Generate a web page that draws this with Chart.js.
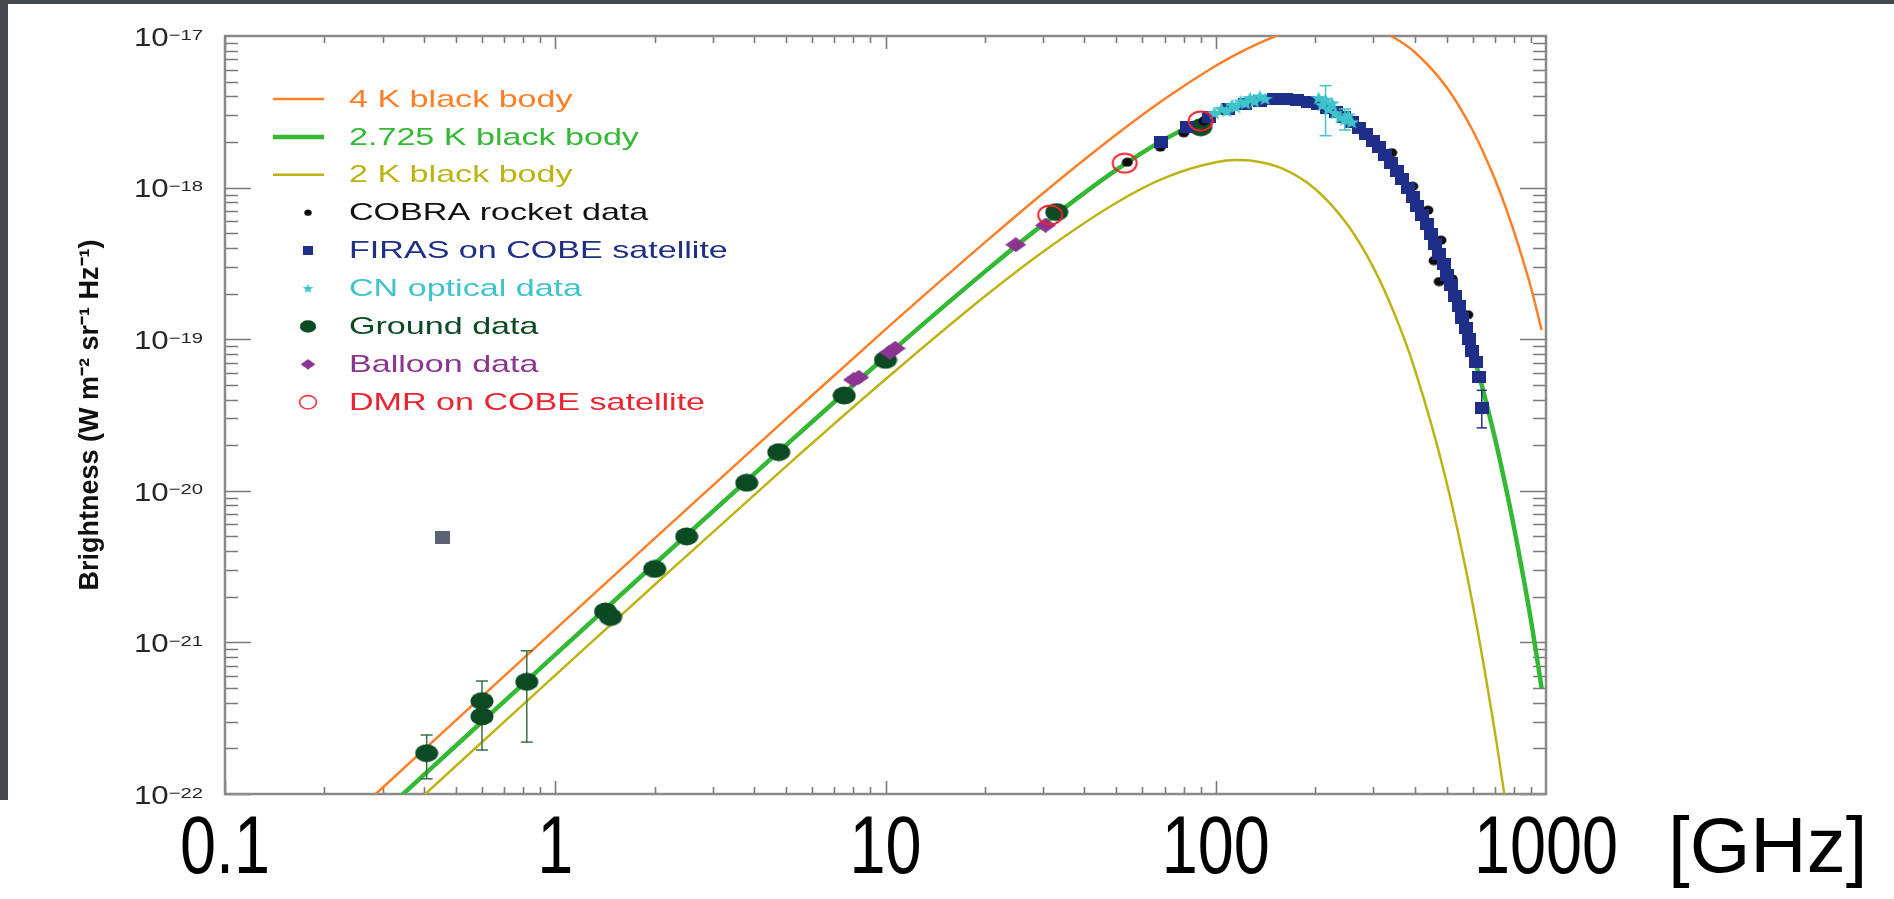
<!DOCTYPE html>
<html>
<head>
<meta charset="utf-8">
<title>CMB spectrum</title>
<script src="https://cdn.jsdelivr.net/npm/chart.js@4.4.1/dist/chart.umd.min.js"></script>
<style>
  html, body { margin: 0; padding: 0; }
  body { width: 1894px; height: 899px; background: #45484f; position: relative; overflow: hidden; }
  #sheet { position: absolute; left: 8px; top: 4px; right: 0; bottom: 0; background: #fff; }
  #foot { position: absolute; left: 0; top: 800px; right: 0; bottom: 0; background: #fff; }
  #cmbChart { position: absolute; left: 0; top: 0; }
</style>
</head>
<body>
<div id="sheet"></div>
<div id="foot"></div>
<canvas id="cmbChart" width="1894" height="899"></canvas>
<script>
// frequency grid (GHz) for the three black body curves
var freqGrid = [0.2, 0.3, 0.5, 1, 2, 5, 10, 20, 30, 50, 70, 100, 115, 130, 160, 200, 250, 300, 350, 400, 500, 600, 700, 750, 800, 900, 970];
var bb4K    = [4.91e-23, 1.10e-22, 3.06e-22, 1.22e-21, 4.86e-21, 2.98e-20, 1.16e-19, 4.35e-19, 9.19e-19, 2.24e-18, 3.84e-18, 6.36e-18, 7.54e-18, 8.62e-18, 1.04e-17, 1.18e-17, 1.21e-17, 1.12e-17, 9.63e-18, 7.84e-18, 4.59e-18, 2.38e-18, 1.14e-18, 7.70e-19, 5.12e-19, 2.20e-19, 1.15e-19];
var bb2725K = [3.34e-23, 7.52e-23, 2.08e-22, 8.30e-22, 3.29e-21, 2.00e-20, 7.66e-20, 2.79e-19, 5.72e-19, 1.31e-18, 2.08e-18, 3.06e-18, 3.41e-18, 3.65e-18, 3.84e-18, 3.59e-18, 2.86e-18, 2.03e-18, 1.33e-18, 8.24e-19, 2.76e-19, 8.20e-20, 2.24e-20, 1.14e-20, 5.74e-21, 1.41e-21, 5.0e-22];
var bb2K    = [2.45e-23, 5.51e-23, 1.53e-22, 6.07e-22, 2.40e-21, 1.45e-20, 5.44e-20, 1.92e-19, 3.78e-19, 7.95e-19, 1.16e-18, 1.47e-18, 1.52e-18, 1.50e-18, 1.33e-18, 9.80e-19, 5.73e-19, 2.98e-19, 1.42e-19, 6.40e-20, 1.14e-20, 1.78e-21, 2.57e-22, 9.5e-23, 3.48e-23, 4.5e-24, 1.0e-24];

// measurements
var cobraFreq = [54, 68, 80, 92, 230, 341, 395, 439, 458, 475, 481, 520, 580];
var cobraB    = [1.47e-18, 1.85e-18, 2.30e-18, 2.75e-18, 3.2e-18, 1.70e-18, 1.02e-18, 7.1e-19, 3.3e-19, 2.4e-19, 4.5e-19, 2.5e-19, 1.45e-19];

var firasFreq = [68.1, 81.7, 95.2, 108.8, 122.4, 136.0, 149.6, 163.2, 176.8, 190.4, 204.0, 217.6, 231.2, 244.8, 258.4, 272.0, 285.6, 299.2, 312.8, 326.4, 340.0, 353.6, 367.2, 380.8, 394.4, 408.0, 421.6, 435.1, 448.7, 462.3, 475.9, 489.5, 503.1, 516.7, 530.3, 543.9, 557.5, 571.1, 584.7, 598.3, 611.9, 625.5, 639.1];
var firasB    = [2.01e-18, 2.50e-18, 2.93e-18, 3.28e-18, 3.54e-18, 3.72e-18, 3.82e-18, 3.84e-18, 3.79e-18, 3.69e-18, 3.54e-18, 3.37e-18, 3.16e-18, 2.94e-18, 2.72e-18, 2.49e-18, 2.26e-18, 2.04e-18, 1.84e-18, 1.64e-18, 1.46e-18, 1.29e-18, 1.14e-18, 9.98e-19, 8.72e-19, 7.60e-19, 6.60e-19, 5.71e-19, 4.93e-19, 4.24e-19, 3.65e-19, 3.12e-19, 2.67e-19, 2.28e-19, 1.94e-19, 1.65e-19, 1.39e-19, 1.18e-19, 9.97e-20, 8.41e-20, 7.06e-20, 5.6e-20, 3.5e-20];
var firasErrFreq = [639.1];
var firasErrLow  = [2.6e-20];
var firasErrHigh = [4.6e-20];

var cnFreq = [99, 104, 108, 112, 115, 119, 123, 127, 131, 136, 141, 205, 210, 215, 220, 225, 230, 238, 245, 252, 258];
var cnB    = [3.1e-18, 3.3e-18, 3.2e-18, 3.5e-18, 3.4e-18, 3.7e-18, 3.6e-18, 3.9e-18, 3.7e-18, 4.0e-18, 3.85e-18, 3.9e-18, 3.5e-18, 3.8e-18, 3.3e-18, 3.6e-18, 3.1e-18, 2.9e-18, 2.8e-18, 3.0e-18, 2.7e-18];
var cnErrFreq = [215, 246];
var cnErrLow  = [2.2e-18, 2.4e-18];
var cnErrHigh = [4.7e-18, 3.3e-18];

var groundFreq = [0.408, 0.6, 0.6, 0.82, 1.42, 1.47, 2.0, 2.5, 3.8, 4.75, 7.5, 10.0, 33.0, 90.0];
var groundB    = [1.86e-22, 4.1e-22, 3.25e-22, 5.5e-22, 1.6e-21, 1.47e-21, 3.05e-21, 5.0e-21, 1.13e-20, 1.8e-20, 4.25e-20, 7.3e-20, 6.9e-19, 2.5e-18];
var groundErrFreq = [0.408, 0.6, 0.82];
var groundErrLow  = [1.26e-22, 1.95e-22, 2.2e-22];
var groundErrHigh = [2.45e-22, 5.56e-22, 8.8e-22];

var balloonFreq = [8.0, 8.3, 10.3, 10.7, 24.8, 30.5];
var balloonB    = [5.4e-20, 5.6e-20, 8.2e-20, 8.7e-20, 4.2e-19, 5.65e-19];

var dmrFreq = [31.5, 53, 90];
var dmrB    = [6.6e-19, 1.45e-18, 2.75e-18];

var strayFreq = [0.455];
var strayB    = [4.95e-21];

// axes
var xTickValues = [0.1, 1, 10, 100, 1000];
var xTickLabels = ['0.1', '1', '10', '100', '1000'];
var xUnitLabel = '[GHz]';
var yTickValues = [1e-22, 1e-21, 1e-20, 1e-19, 1e-18, 1e-17];
var yTickExponents = ['\u221222', '\u221221', '\u221220', '\u221219', '\u221218', '\u221217'];

function pairs(xs, ys) {
  return xs.map(function (x, i) { return { x: x, y: ys[i] }; });
}
function errorSegments(xs, lows, highs) {
  var out = [];
  xs.forEach(function (x, i) {
    out.push({ x: x, y: lows[i] }, { x: x, y: highs[i] }, { x: x, y: null });
  });
  return out;
}
function markerImage(w, h, draw) {
  var c = document.createElement('canvas');
  c.width = w; c.height = h;
  draw(c.getContext('2d'), w, h);
  return c;
}
function ellipseMarker(w, h, fill, stroke, lw) {
  return markerImage(w, h, function (g) {
    g.beginPath();
    g.ellipse(w / 2, h / 2, w / 2 - (lw || 0) - 0.5, h / 2 - (lw || 0) - 0.5, 0, 0, Math.PI * 2);
    if (fill) { g.fillStyle = fill; g.fill(); }
    if (stroke) { g.strokeStyle = stroke; g.lineWidth = lw; g.stroke(); }
  });
}

var cobraDot  = ellipseMarker(12, 10, '#0d0d0d');
var groundDot = ellipseMarker(24, 19, '#0b4a22');
var dmrRing   = ellipseMarker(29, 24, null, '#ec2430', 2);
var firasSq = markerImage(14, 12, function (g, w, h) { g.fillStyle = '#1f2e86'; g.fillRect(0, 0, w, h); });
var straySq = markerImage(15, 13, function (g, w, h) { g.fillStyle = '#5b6373'; g.fillRect(0, 0, w, h); });
var balloonDia = markerImage(21, 15, function (g, w, h) {
  g.fillStyle = '#8b3591';
  g.beginPath(); g.moveTo(w / 2, 0); g.lineTo(w, h / 2); g.lineTo(w / 2, h); g.lineTo(0, h / 2); g.closePath(); g.fill();
});
var cnStar = markerImage(17, 14, function (g, w, h) {
  g.fillStyle = '#40c4cc';
  g.beginPath();
  for (var i = 0; i < 10; i++) {
    var r = i % 2 === 0 ? 7 : 3;
    var a = -Math.PI / 2 + i * Math.PI / 5;
    g.lineTo(w / 2 + r * Math.cos(a) * 1.15, h / 2 + 0.5 + r * Math.sin(a));
  }
  g.closePath(); g.fill();
});

var SANS = '"Liberation Sans", Arial, sans-serif';

// legend drawn inside the plot, coloured text like the original figure
var insideLegend = {
  id: 'insideLegend',
  afterDatasetsDraw: function (chart) {
    var ctx = chart.ctx, a = chart.chartArea, row = 0;
    chart.data.datasets.forEach(function (ds) {
      if (!ds.label) return;
      var y = a.top + 63 + row * 37.9;
      ctx.save();
      if (ds.showLine) {
        ctx.strokeStyle = ds.borderColor;
        ctx.lineWidth = ds.borderWidth;
        ctx.beginPath(); ctx.moveTo(a.left + 48, y); ctx.lineTo(a.left + 99, y); ctx.stroke();
      } else {
        var img = ds.pointStyle, k = 0.7;
        ctx.drawImage(img, a.left + 83 - img.width * k / 2, y - img.height * k / 2, img.width * k, img.height * k);
      }
      ctx.font = '24px ' + SANS;
      ctx.fillStyle = ds.legendColor;
      ctx.textBaseline = 'middle';
      ctx.translate(a.left + 124, y + 1);
      ctx.scale(1.42, 1);
      ctx.fillText(ds.label, 0, 0);
      ctx.restore();
      row++;
    });
  }
};

// plot frame with inward log ticks on all four sides, plus the tick labels
var frameTicks = {
  id: 'frameTicks',
  beforeDatasetsDraw: function (chart) {
    var ctx = chart.ctx, a = chart.chartArea, xs = chart.scales.x, ys = chart.scales.y;
    ctx.save();
    ctx.strokeStyle = '#7a7a7a';
    ctx.lineWidth = 1.6;
    var e, m, v, p, len;
    for (e = -1; e <= 2; e++) {
      for (m = 1; m <= 9; m++) {
        v = m * Math.pow(10, e);
        p = Math.round(xs.getPixelForValue(v)) + 0.5;
        len = m === 1 ? 13 : 7;
        ctx.beginPath();
        ctx.moveTo(p, a.bottom); ctx.lineTo(p, a.bottom - len);
        ctx.moveTo(p, a.top); ctx.lineTo(p, a.top + len);
        ctx.stroke();
      }
    }
    for (e = -22; e <= -18; e++) {
      for (m = 1; m <= 9; m++) {
        v = m * Math.pow(10, e);
        p = Math.round(ys.getPixelForValue(v)) + 0.5;
        len = m === 1 ? 26 : 13;
        ctx.beginPath();
        ctx.moveTo(a.left, p); ctx.lineTo(a.left + len, p);
        ctx.moveTo(a.right, p); ctx.lineTo(a.right - len, p);
        ctx.stroke();
      }
    }
    ctx.strokeStyle = '#8a8a8a';
    ctx.lineWidth = 2.5;
    ctx.strokeRect(a.left, a.top, a.right - a.left, a.bottom - a.top);

    // y tick labels: 10 with a raised exponent
    ctx.fillStyle = '#262626';
    ctx.textBaseline = 'middle';
    yTickValues.forEach(function (v, i) {
      var py = ys.getPixelForValue(v);
      var right = a.left - 22;
      ctx.font = '15px ' + SANS;
      var ew = ctx.measureText(yTickExponents[i]).width * 1.35;
      ctx.save();
      ctx.translate(right - ew, py - 0.5);
      ctx.scale(1.35, 1);
      ctx.fillText(yTickExponents[i], 0, 0);
      ctx.restore();
      ctx.font = '25px ' + SANS;
      var bw = ctx.measureText('10').width * 1.25;
      ctx.save();
      ctx.translate(right - ew - bw, py + 3);
      ctx.scale(1.25, 1);
      ctx.fillText('10', 0, 0);
      ctx.restore();
    });

    // x tick labels in large slide type
    ctx.fillStyle = '#000';
    ctx.font = '82px ' + SANS;
    xTickValues.forEach(function (v, i) {
      var px = xs.getPixelForValue(v);
      ctx.save();
      ctx.translate(px, 850);
      ctx.scale(0.79, 1);
      ctx.textAlign = 'center';
      ctx.fillText(xTickLabels[i], 0, 0);
      ctx.restore();
    });
    ctx.font = '78px ' + SANS;
    ctx.textAlign = 'left';
    ctx.fillText(xUnitLabel, xs.getPixelForValue(1000) + 122, 850);
    ctx.restore();
  }
};

new Chart('cmbChart', {
  type: 'scatter',
  data: {
    datasets: [
      { label: '4 K black body', data: pairs(freqGrid, bb4K), showLine: true, borderColor: '#ff7f27', borderWidth: 2.5, pointRadius: 0, cubicInterpolationMode: 'monotone', legendColor: '#ff7f27', order: 12 },
      { label: '2.725 K black body', data: pairs(freqGrid, bb2725K), showLine: true, borderColor: '#34b934', borderWidth: 4.5, pointRadius: 0, cubicInterpolationMode: 'monotone', legendColor: '#34b934', order: 10 },
      { label: '2 K black body', data: pairs(freqGrid, bb2K), showLine: true, borderColor: '#bcb415', borderWidth: 2.5, pointRadius: 0, cubicInterpolationMode: 'monotone', legendColor: '#bcb415', order: 11 },
      { label: 'COBRA rocket data', data: pairs(cobraFreq, cobraB), pointStyle: cobraDot, pointRadius: 5, legendColor: '#111111', order: 5 },
      { label: 'FIRAS on COBE satellite', data: pairs(firasFreq, firasB), pointStyle: firasSq, pointRadius: 6, legendColor: '#1f2e86', order: 4 },
      { label: 'CN optical data', data: pairs(cnFreq, cnB), pointStyle: cnStar, pointRadius: 6, legendColor: '#40c4cc', order: 2 },
      { label: 'Ground data', data: pairs(groundFreq, groundB), pointStyle: groundDot, pointRadius: 9, legendColor: '#0b4a22', order: 7 },
      { label: 'Balloon data', data: pairs(balloonFreq, balloonB), pointStyle: balloonDia, pointRadius: 7, legendColor: '#8b3591', order: 6 },
      { label: 'DMR on COBE satellite', data: pairs(dmrFreq, dmrB), pointStyle: dmrRing, pointRadius: 10, legendColor: '#ec2430', order: 1 },
      { data: errorSegments(groundErrFreq, groundErrLow, groundErrHigh), showLine: true, spanGaps: false, borderColor: '#3d6e48', borderWidth: 1.5, pointStyle: 'line', pointRadius: 6, pointBorderWidth: 1.5, order: 8 },
      { data: errorSegments(firasErrFreq, firasErrLow, firasErrHigh), showLine: true, spanGaps: false, borderColor: '#1f2e86', borderWidth: 1.5, pointStyle: 'line', pointRadius: 5, pointBorderWidth: 1.5, order: 4 },
      { data: errorSegments(cnErrFreq, cnErrLow, cnErrHigh), showLine: true, spanGaps: false, borderColor: '#40c4cc', borderWidth: 1.5, pointStyle: 'line', pointRadius: 6, pointBorderWidth: 1.5, order: 3 },
      { data: pairs(strayFreq, strayB), pointStyle: straySq, pointRadius: 7, order: 7 }
    ]
  },
  options: {
    responsive: false,
    animation: false,
    devicePixelRatio: 1,
    layout: { padding: { left: 0, right: 348, top: 36, bottom: 0 } },
    plugins: { legend: { display: false }, tooltip: { enabled: false } },
    scales: {
      x: {
        type: 'logarithmic', min: 0.1, max: 1000,
        grid: { display: false, drawTicks: false },
        border: { display: false },
        afterBuildTicks: function (s) { s.ticks = xTickValues.map(function (v) { return { value: v }; }); },
        afterFit: function (s) { s.height = 105; },
        ticks: { display: false }
      },
      y: {
        type: 'logarithmic', min: 1e-22, max: 1e-17,
        grid: { display: false, drawTicks: false },
        border: { display: false },
        afterBuildTicks: function (s) { s.ticks = yTickValues.map(function (v) { return { value: v }; }); },
        afterFit: function (s) { s.width = 225; },
        title: {
          display: true,
          text: 'Brightness (W m\u207B\u00B2 sr\u207B\u00B9 Hz\u207B\u00B9)',
          color: '#111',
          font: { family: SANS, size: 27, weight: 'bold' },
          padding: { top: 74, bottom: 0 }
        },
        ticks: { display: false }
      }
    }
  },
  plugins: [frameTicks, insideLegend]
});
</script>
</body>
</html>
